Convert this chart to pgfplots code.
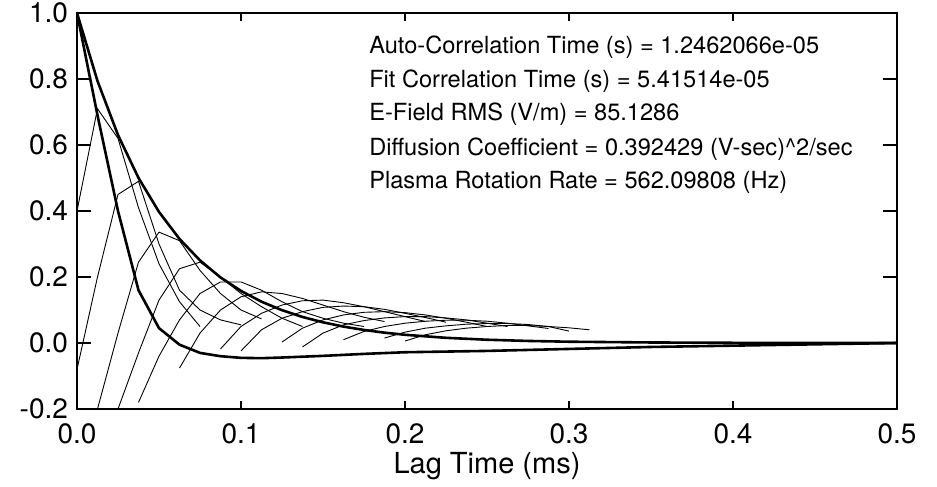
\documentclass[border=0pt]{standalone}
\usepackage{fontspec}
\setmainfont{TeX Gyre Heros}
\usepackage{pgfplots}
\pgfplotsset{compat=1.18}
\begin{document}
\begin{tikzpicture}
\path[use as bounding box] (-38.5pt,-39pt) rectangle (430pt,204.5pt);
\begin{axis}[
  at={(0,0)}, anchor=south west,
  scale only axis, width=410pt, height=198pt,
  xmin=0, xmax=0.5, ymin=-0.2, ymax=1.0,
  xtick={0,0.1,0.2,0.3,0.4,0.5}, xticklabels={0.0,0.1,0.2,0.3,0.4,0.5},
  ytick={-0.2,0,0.2,0.4,0.6,0.8,1.0}, yticklabels={-0.2,0.0,0.2,0.4,0.6,0.8,1.0},
  xtick pos=both, ytick pos=both, tick align=inside,
  minor tick num=0,
  x tick style={/pgfplots/major tick length=4pt},
  y tick style={/pgfplots/major tick length=7pt},
  tick style={line width=1.3pt, black},
  axis line style={line width=1.3pt},
  tick label style={font=\fontsize{14}{16}\selectfont},
  xticklabel style={yshift=-4pt},
  yticklabel style={xshift=-1pt},
  xlabel={Lag Time (ms)},
  xlabel style={font=\fontsize{14.5}{16}\selectfont, yshift=3pt},
  thinc/.style={black, line width=0.45pt, no marks},
  thickc/.style={black, line width=1.3pt, no marks},
]
% thin cross-correlation curves
\addplot[thinc] coordinates {(0,0.40) (0.0125,0.71) (0.025,0.62) (0.0375,0.41) (0.05,0.24) (0.0625,0.125) (0.075,0.05)};
\addplot[thinc] coordinates {(0,-0.08) (0.0125,0.20) (0.025,0.45) (0.0375,0.49) (0.05,0.30) (0.0625,0.16) (0.075,0.10) (0.0875,0.07) (0.1,0.055)};
\addplot[thinc] coordinates {(0.0125,-0.20) (0.025,0.03) (0.0375,0.245) (0.05,0.336) (0.0625,0.31) (0.075,0.22) (0.0875,0.15) (0.1,0.10) (0.1125,0.073)};
\addplot[thinc] coordinates {(0.025,-0.20) (0.0375,-0.03) (0.05,0.13) (0.0625,0.225) (0.075,0.245) (0.0875,0.20) (0.1,0.15) (0.1125,0.11) (0.125,0.075) (0.1375,0.05)};
\addplot[thinc] coordinates {(0.0375,-0.18) (0.05,-0.04) (0.0625,0.07) (0.075,0.15) (0.0875,0.185) (0.1,0.185) (0.1125,0.16) (0.125,0.125) (0.1375,0.095) (0.15,0.075) (0.1625,0.06) (0.175,0.05)};
\addplot[thinc] coordinates {(0.0625,-0.076) (0.075,0.03) (0.0875,0.10) (0.1,0.14) (0.1125,0.155) (0.125,0.15) (0.1375,0.135) (0.15,0.115) (0.1625,0.095) (0.175,0.078) (0.1875,0.065)};
\addplot[thinc] coordinates {(0.0875,-0.018) (0.1,0.05) (0.1125,0.09) (0.125,0.115) (0.1375,0.128) (0.15,0.13) (0.1625,0.122) (0.175,0.11) (0.1875,0.095) (0.2,0.08) (0.2125,0.065)};
\addplot[thinc] coordinates {(0.1,-0.024) (0.1125,0.04) (0.125,0.075) (0.1375,0.095) (0.15,0.108) (0.1625,0.112) (0.175,0.11) (0.1875,0.102) (0.2,0.09) (0.2125,0.077) (0.225,0.063)};
\addplot[thinc] coordinates {(0.125,0.003) (0.1375,0.045) (0.15,0.07) (0.1625,0.085) (0.175,0.093) (0.1875,0.095) (0.2,0.092) (0.2125,0.085) (0.225,0.075) (0.2375,0.063) (0.25,0.05)};
\addplot[thinc] coordinates {(0.1375,-0.012) (0.15,0.03) (0.1625,0.055) (0.175,0.068) (0.1875,0.076) (0.2,0.08) (0.2125,0.08) (0.225,0.076) (0.2375,0.07) (0.25,0.06) (0.2625,0.05)};
\addplot[thinc] coordinates {(0.1625,0.01) (0.175,0.035) (0.1875,0.05) (0.2,0.06) (0.2125,0.066) (0.225,0.069) (0.2375,0.069) (0.25,0.066) (0.2625,0.06) (0.275,0.052) (0.2875,0.044)};
\addplot[thinc] coordinates {(0.1875,0.015) (0.2,0.033) (0.2125,0.045) (0.225,0.052) (0.2375,0.057) (0.25,0.059) (0.2625,0.059) (0.275,0.056) (0.2875,0.05) (0.3,0.036)};
\addplot[thinc] coordinates {(0.2,0.006) (0.2125,0.025) (0.225,0.037) (0.2375,0.045) (0.25,0.05) (0.2625,0.053) (0.275,0.053) (0.2875,0.05) (0.3,0.046) (0.3125,0.04)};
% autocorrelation
\addplot[thickc] coordinates {(0,1.0) (0.0125,0.69) (0.025,0.40) (0.0375,0.16) (0.05,0.045) (0.0625,-0.005) (0.075,-0.03) (0.0875,-0.04) (0.1,-0.045) (0.1125,-0.046) (0.125,-0.044) (0.15,-0.039) (0.175,-0.033) (0.2,-0.028) (0.25,-0.024) (0.3,-0.018) (0.35,-0.012) (0.4,-0.008) (0.45,-0.004) (0.5,0.0)};
% exponential fit
\addplot[thickc] coordinates {(0,1.0) (0.0125,0.7939) (0.025,0.6302) (0.0375,0.5003) (0.05,0.3972) (0.0625,0.3153) (0.075,0.2503) (0.0875,0.1987) (0.1,0.1578) (0.1125,0.1252) (0.125,0.0994) (0.1375,0.0789) (0.15,0.0627) (0.1625,0.0497) (0.175,0.0395) (0.1875,0.0313) (0.2,0.0249) (0.225,0.0157) (0.25,0.0099) (0.275,0.0062) (0.3,0.0039) (0.35,0.0016) (0.4,0.0006) (0.45,0.0002) (0.5,0.0001)};
\begin{scope}[every node/.style={anchor=base west, font=\fontsize{11.8}{14}\selectfont, inner sep=0pt}]
\node at (axis cs:0.178,0.876) {Auto-Correlation Time (s) = 1.2462066e-05};
\node at (axis cs:0.178,0.774) {Fit Correlation Time (s) = 5.41514e-05};
\node at (axis cs:0.178,0.674) {E-Field RMS (V/m) = 85.1286};
\node at (axis cs:0.178,0.568) {Diffusion Coefficient = 0.392429 (V-sec)\^{}2/sec};
\node at (axis cs:0.178,0.468) {Plasma Rotation Rate = 562.09808 (Hz)};
\end{scope}
\end{axis}
\end{tikzpicture}
\end{document}
